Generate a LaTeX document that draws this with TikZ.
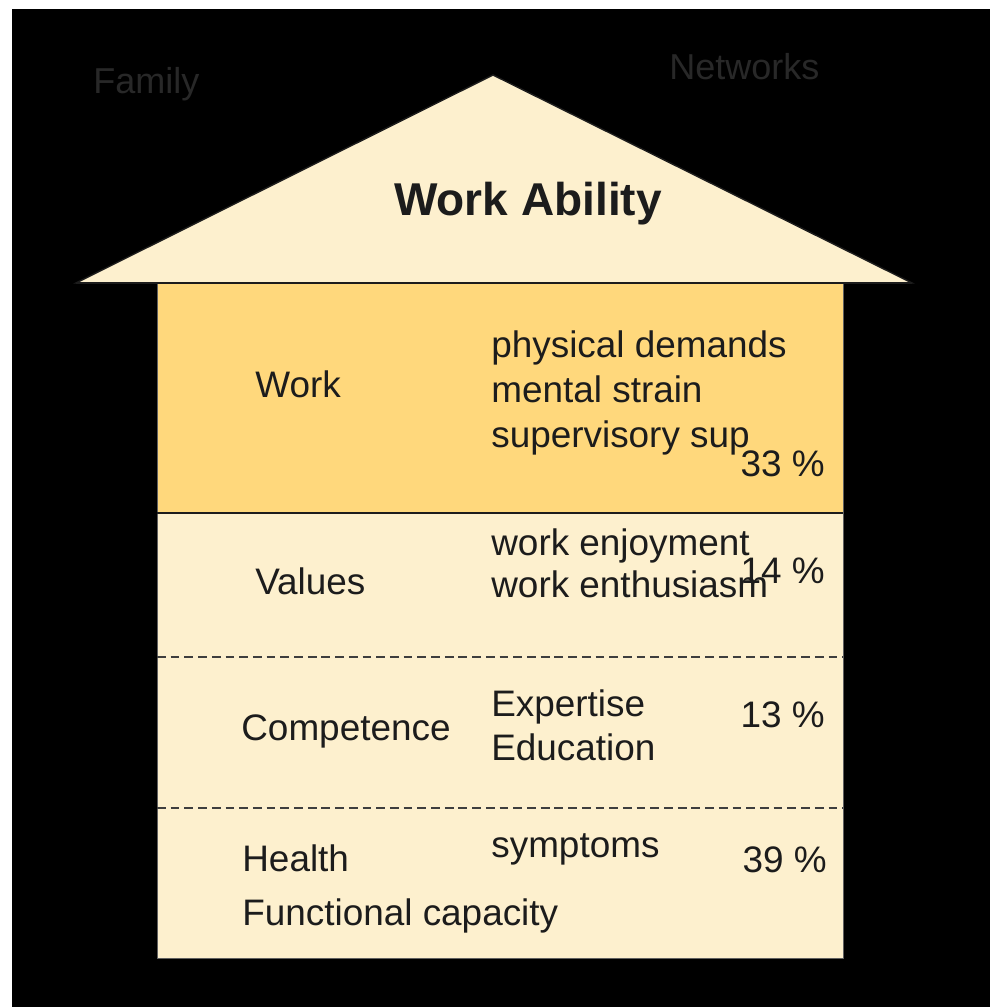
\documentclass[tikz,border=0pt]{standalone}
\usepackage{fontspec}
\setmainfont{Liberation Sans}
\usetikzlibrary{positioning}

\definecolor{cream}{RGB}{253,240,206}
\definecolor{workyellow}{RGB}{255,216,124}
\definecolor{ink}{RGB}{28,28,28}
\definecolor{shadowtext}{RGB}{40,40,40}

\begin{document}
\begin{tikzpicture}[x=0.02cm, y=-0.02cm,
    txt/.style={inner sep=0pt, text=ink, font=\fontsize{21}{25}\selectfont},
    lbl/.style={txt, anchor=base west},
    pct/.style={txt, anchor=base east},
    ghost/.style={inner sep=0pt, anchor=base west, text=shadowtext,
                  font=\fontsize{20.5}{25}\selectfont},
    divider/.style={draw=ink!85, line width=0.6pt, dash pattern=on 5pt off 2.8pt}
]
\useasboundingbox (0,0) rectangle (990,1007);
\fill[black] (12,9) rectangle (990,1007);

% ---- words in the dark ----
\node[ghost] (family)   at (93,93) {Family};
\node[ghost] (networks) at (669,80) {Networks};

% ---- roof ----
\coordinate (eaveL) at (76,283);
\coordinate (ridge) at (493,75);
\coordinate (eaveR) at (912,283);
\filldraw[fill=cream, draw=ink, line width=0.8pt] (eaveL) -- (ridge) -- (eaveR) -- cycle;
\node[txt, anchor=base, font=\bfseries\fontsize{26.2}{30}\selectfont] (title)
      at (528,215) {Work Ability};

% ---- walls: four floors ----
\fill[cream] (157,283) rectangle (843,958);
\fill[workyellow] (157,283) rectangle (843,513);
\draw[ink!70, line width=0.5pt] (157,283) rectangle (843,958);
\draw[ink, line width=0.8pt] (eaveL) -- (eaveR);

\coordinate (f1L) at (157,513); \coordinate (f1R) at (843,513);
\coordinate (f2L) at (157,657); \coordinate (f2R) at (843,657);
\coordinate (f3L) at (157,808); \coordinate (f3R) at (843,808);
\draw[ink, line width=0.8pt] (f1L) -- (f1R);
\draw[divider] (f2L) -- (f2R);
\draw[divider] (f3L) -- (f3R);

% ---- floor 1: work ----
\node[lbl] (work)   at (255,397) {Work};
\node[lbl] (phys)   at (491,357) {physical demands};
\node[lbl] (mental) at (491,402) {mental strain};
\node[lbl] (superv) at (491,447) {supervisory sup};
\node[pct] (pwork)  at (825,476) {33 \%};

% ---- floor 2: values ----
\node[lbl] (values) at (255,594) {Values};
\node[lbl] (enjoy)  at (491,555) {work enjoyment};
\node[lbl] (enth)   at (491,597) {work enthusiasm};
\node[pct] (pval)   at (825,583) {14 \%};

% ---- floor 3: competence ----
\node[lbl] (comp)   at (241,740) {Competence};
\node[lbl] (expert) at (491,716) {Expertise};
\node[lbl] (edu)    at (491,760) {Education};
\node[pct] (pcomp)  at (825,727) {13 \%};

% ---- floor 4: health ----
\node[lbl] (health) at (242,871) {Health};
\node[lbl] (sympt)  at (491,857) {symptoms};
\node[pct] (phealth) at (827,872) {39 \%};
\node[lbl] (func)   at (242,925) {Functional capacity};

\end{tikzpicture}
\end{document}
